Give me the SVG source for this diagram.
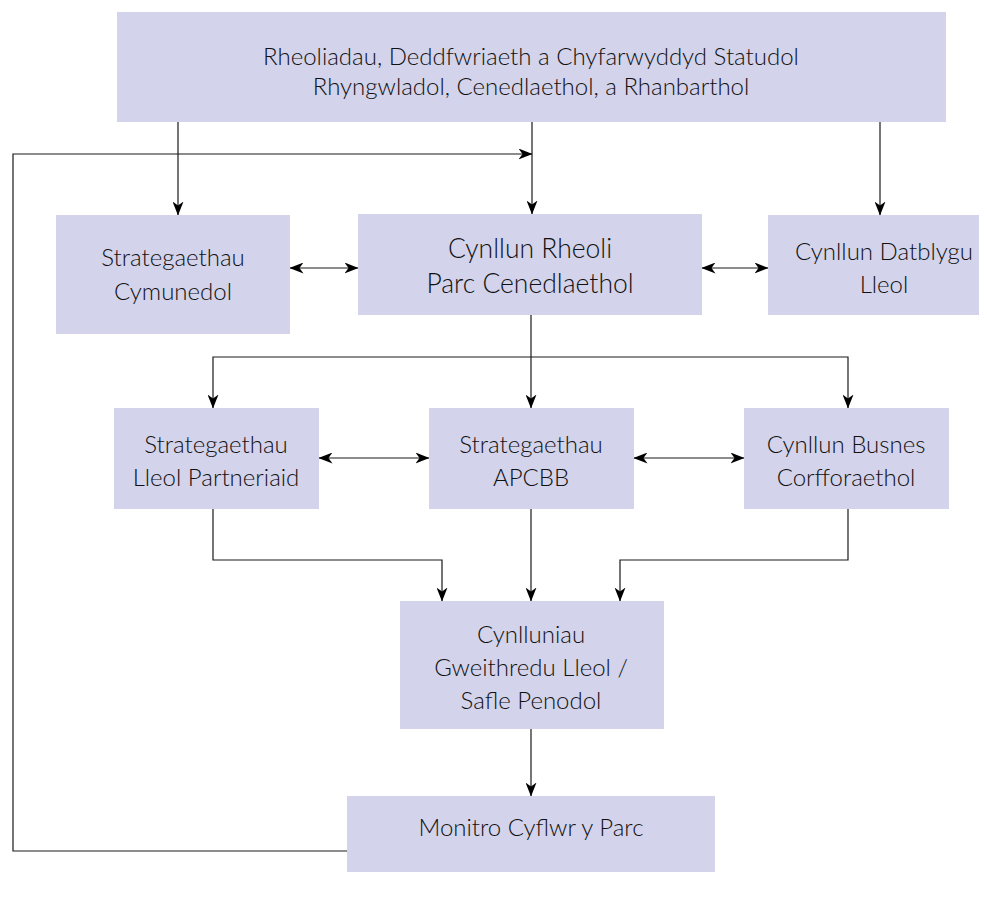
<svg xmlns="http://www.w3.org/2000/svg" width="987" height="899" viewBox="0 0 987 899">
<defs>
<style>
.box{fill:#d3d3eb;}
.t{font-family:"Lato","Open Sans","Liberation Sans",sans-serif;font-weight:300;fill:#111;text-anchor:middle;font-size:24px;}
.s26{font-size:26.5px;}
.c{fill:none;stroke:#1a1a1a;stroke-width:1.2;}
</style>
<marker id="ah" markerUnits="userSpaceOnUse" markerWidth="14" markerHeight="11" refX="13.5" refY="5.5" orient="auto-start-reverse" viewBox="0 0 14 11">
<path d="M0,0 L14,5.5 L0,11 L4,5.5 Z" fill="#000"/>
</marker>
</defs>
<rect width="987" height="899" fill="#fff"/>

<g id="connectors">
<line class="c" x1="178" y1="122" x2="178" y2="215" marker-end="url(#ah)"/>
<line class="c" x1="532" y1="122" x2="532" y2="214" marker-end="url(#ah)"/>
<line class="c" x1="880" y1="122" x2="880" y2="215" marker-end="url(#ah)"/>
<polyline class="c" points="347,851 13,851 13,154 532,154" marker-end="url(#ah)"/>
<line class="c" x1="290" y1="268" x2="358" y2="268" marker-start="url(#ah)" marker-end="url(#ah)"/>
<line class="c" x1="702" y1="268" x2="768" y2="268" marker-start="url(#ah)" marker-end="url(#ah)"/>
<line class="c" x1="531" y1="315" x2="531" y2="408" marker-end="url(#ah)"/>
<polyline class="c" points="213,408 213,357 848,357 848,408" marker-start="url(#ah)" marker-end="url(#ah)"/>
<line class="c" x1="319" y1="458" x2="429" y2="458" marker-start="url(#ah)" marker-end="url(#ah)"/>
<line class="c" x1="634" y1="458" x2="744" y2="458" marker-start="url(#ah)" marker-end="url(#ah)"/>
<polyline class="c" points="213,509 213,560 442,560 442,601" marker-end="url(#ah)"/>
<line class="c" x1="531" y1="509" x2="531" y2="601" marker-end="url(#ah)"/>
<polyline class="c" points="848,509 848,560 620,560 620,601" marker-end="url(#ah)"/>
<line class="c" x1="531" y1="729" x2="531" y2="796" marker-end="url(#ah)"/>
</g>

<g id="n-rheoliadau">
<rect class="box" x="117" y="12" width="829" height="110"/>
<text class="t" x="531" y="65">Rheoliadau, Deddfwriaeth a Chyfarwyddyd Statudol</text>
<text class="t" x="531" y="95">Rhyngwladol, Cenedlaethol, a Rhanbarthol</text>
</g>

<g id="n-strategaethau-cymunedol">
<rect class="box" x="56" y="215" width="234" height="119"/>
<text class="t" x="173" y="266">Strategaethau</text>
<text class="t" x="173" y="300">Cymunedol</text>
</g>

<g id="n-cynllun-rheoli">
<rect class="box" x="358" y="214" width="344" height="101"/>
<text class="t s26" x="530" y="258">Cynllun Rheoli</text>
<text class="t s26" x="530" y="293">Parc Cenedlaethol</text>
</g>

<g id="n-cynllun-datblygu">
<rect class="box" x="768" y="215" width="211" height="100"/>
<text class="t" x="884" y="260">Cynllun Datblygu</text>
<text class="t" x="884" y="293">Lleol</text>
</g>

<g id="n-strategaethau-lleol">
<rect class="box" x="114" y="408" width="205" height="101"/>
<text class="t" x="216" y="453">Strategaethau</text>
<text class="t" x="216" y="486">Lleol Partneriaid</text>
</g>

<g id="n-strategaethau-apcbb">
<rect class="box" x="429" y="408" width="205" height="101"/>
<text class="t" x="531" y="453">Strategaethau</text>
<text class="t" x="531" y="486">APCBB</text>
</g>

<g id="n-cynllun-busnes">
<rect class="box" x="744" y="408" width="205" height="101"/>
<text class="t" x="846" y="453">Cynllun Busnes</text>
<text class="t" x="846" y="486">Corfforaethol</text>
</g>

<g id="n-cynlluniau">
<rect class="box" x="400" y="601" width="264" height="128"/>
<text class="t" x="531" y="643">Cynlluniau</text>
<text class="t" x="531" y="676">Gweithredu Lleol /</text>
<text class="t" x="531" y="709">Safle Penodol</text>
</g>

<g id="n-monitro">
<rect class="box" x="347" y="796" width="368" height="76"/>
<text class="t" x="531" y="836">Monitro Cyflwr y Parc</text>
</g>
</svg>
